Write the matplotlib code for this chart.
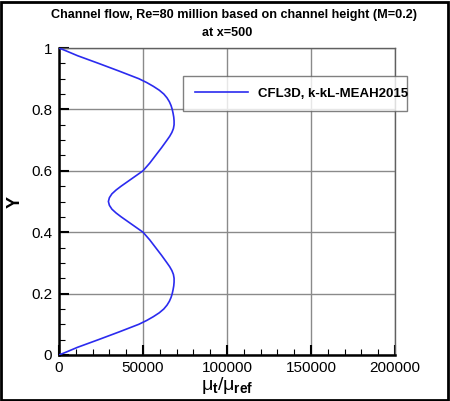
import matplotlib
matplotlib.use("Agg")
import matplotlib.pyplot as plt
from matplotlib.patches import Rectangle
from matplotlib.ticker import MultipleLocator

# Data
y_vals = [0.0, 0.01, 0.025, 0.05, 0.075, 0.1, 0.1125, 0.125, 0.1375, 0.15,
          0.1625, 0.175, 0.1875, 0.2, 0.2125, 0.225, 0.2375, 0.25, 0.2625, 0.275,
          0.2875, 0.3, 0.325, 0.35, 0.375, 0.4, 0.425, 0.45, 0.4625, 0.475,
          0.4875, 0.5,
          0.5125, 0.525, 0.5375, 0.55, 0.575, 0.6, 0.625, 0.65, 0.675, 0.7,
          0.7125, 0.725, 0.7375, 0.75, 0.7625, 0.775, 0.7875, 0.8, 0.8125, 0.825,
          0.8375, 0.85, 0.8625, 0.875, 0.8875, 0.9, 0.925, 0.95, 0.975, 0.99, 1.0]
mut_vals = [0, 4500, 11000, 23500, 35700, 47500, 52200, 56200, 59700, 62400,
            64300, 65700, 66700, 67400, 67900, 68300, 68500, 68500, 68100, 67200,
            65900, 64300, 61000, 57500, 54000, 50000, 43500, 37000, 34000, 31500,
            30000, 29400,
            30000, 31500, 34000, 37000, 43500, 50000, 54000, 57500, 61000, 64300,
            65900, 67200, 68100, 68500, 68500, 68300, 67900, 67400, 66700, 65700,
            64300, 62400, 59700, 56200, 52200, 47500, 35700, 23500, 11000, 4500, 0]
series_label = "CFL3D, k-kL-MEAH2015"
title_line1 = "Channel flow, Re=80 million based on channel height (M=0.2)"
title_line2 = "at x=500"
x_ticks = [0, 50000, 100000, 150000, 200000]
y_ticks = [0, 0.2, 0.4, 0.6, 0.8, 1]
y_tick_labels = ["0", "0.2", "0.4", "0.6", "0.8", "1"]

plt.rcParams['font.family'] = ['Liberation Sans', 'DejaVu Sans']
plt.rcParams['mathtext.fontset'] = 'custom'
plt.rcParams['mathtext.rm'] = 'Liberation Sans'
plt.rcParams['mathtext.it'] = 'Liberation Sans'
plt.rcParams['mathtext.bf'] = 'Liberation Sans:bold'

fig = plt.figure(figsize=(4.5, 4.01), dpi=100)
ax = fig.add_axes([59/450, 1-355/401, (395-59)/450, (355-48)/401])

ax.plot(mut_vals, y_vals, color='#2b2bef', lw=1.2, label=series_label, zorder=3)

ax.set_xlim(0, 200000)
ax.set_ylim(0, 1)
ax.set_xticks(x_ticks)
ax.set_xticklabels([str(v) for v in x_ticks])
ax.set_yticks(y_ticks)
ax.set_yticklabels(y_tick_labels)
ax.xaxis.set_minor_locator(MultipleLocator(10000))
ax.yaxis.set_minor_locator(MultipleLocator(0.05))
ax.tick_params(which='major', direction='in', length=7, width=1.5, labelsize=11,
               top=False, right=False, pad=4)
ax.tick_params(which='minor', direction='in', length=4, width=0.8,
               top=False, right=False)
ax.tick_params(axis='y', which='major', pad=5)
ax.grid(True, which='major', color='#8a8a8a', lw=1.0, zorder=1)

for side in ['left', 'bottom']:
    ax.spines[side].set_linewidth(1.8)
    ax.spines[side].set_color('black')
for side in ['top', 'right']:
    ax.spines[side].set_linewidth(1.0)
    ax.spines[side].set_color('#606060')

fig.text(15/450, 1-202/401, 'Y', rotation=90, ha='center', va='center',
         fontsize=13, fontweight='bold')
fig.text(227/450, 1-386/401, r'$\mu_{\mathbf{t}}/\mu_{\mathbf{ref}}$',
         ha='center', va='center', fontsize=14)

fig.text(234/450, 1-15/401, title_line1,
         ha='center', va='center', fontsize=9.1, fontweight='bold')
fig.text(227/450, 1-33/401, title_line2,
         ha='center', va='center', fontsize=9.1, fontweight='bold')

leg = ax.legend(loc='center',
                bbox_to_anchor=((183-59)/336, (355-113)/307, (407-183)/336, (113-74)/307),
                mode='expand', frameon=True, fancybox=False,
                handlelength=4.0, handletextpad=0.75, borderpad=0.9, borderaxespad=0,
                prop={'weight': 'bold', 'size': 9.5})
leg.get_frame().set_edgecolor('#606060')
leg.get_frame().set_linewidth(1.0)
leg.set_zorder(5)

fig.patches.append(Rectangle((0.002, 0.002), 0.994, 0.994, transform=fig.transFigure,
                             fill=False, edgecolor='black', lw=2.0))

fig.savefig('out.png', dpi=100)
